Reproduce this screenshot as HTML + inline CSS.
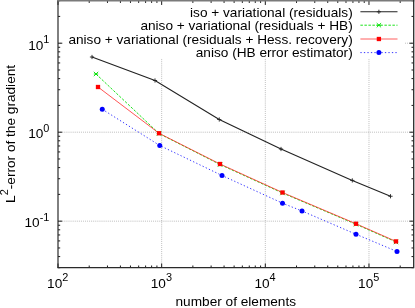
<!DOCTYPE html><html><head><meta charset="utf-8"><style>html,body{margin:0;padding:0;background:#fff;overflow:hidden}svg{display:block;filter:blur(0.3px)}text{font-family:"Liberation Sans",sans-serif;font-size:13.65px;fill:#000}</style></head><body>
<svg width="415" height="308" viewBox="0 0 415 308">
<rect width="415" height="308" fill="#fff"/>
<path d="M161.66 0.75V267.7M265.32 0.75V267.7M368.98 0.75V267.7M58.0 43.21H413.7M58.0 132.19H413.7M58.0 221.17H413.7" stroke="#777" stroke-width="0.65" stroke-dasharray="0.7 1.24" fill="none"/>
<rect x="62.5" y="1.5" width="342.5" height="57" fill="#fff"/>
<path d="M58.00 267.7v-4.2M58.00 0.75v4.2M89.21 267.7v-2.2M89.21 0.75v2.2M107.46 267.7v-2.2M107.46 0.75v2.2M120.41 267.7v-2.2M120.41 0.75v2.2M130.46 267.7v-2.2M130.46 0.75v2.2M138.66 267.7v-2.2M138.66 0.75v2.2M145.60 267.7v-2.2M145.60 0.75v2.2M151.62 267.7v-2.2M151.62 0.75v2.2M156.92 267.7v-2.2M156.92 0.75v2.2M161.66 267.7v-4.2M161.66 0.75v4.2M192.87 267.7v-2.2M192.87 0.75v2.2M211.12 267.7v-2.2M211.12 0.75v2.2M224.07 267.7v-2.2M224.07 0.75v2.2M234.12 267.7v-2.2M234.12 0.75v2.2M242.33 267.7v-2.2M242.33 0.75v2.2M249.27 267.7v-2.2M249.27 0.75v2.2M255.28 267.7v-2.2M255.28 0.75v2.2M260.58 267.7v-2.2M260.58 0.75v2.2M265.32 267.7v-4.2M265.32 0.75v4.2M296.53 267.7v-2.2M296.53 0.75v2.2M314.78 267.7v-2.2M314.78 0.75v2.2M327.73 267.7v-2.2M327.73 0.75v2.2M337.78 267.7v-2.2M337.78 0.75v2.2M345.99 267.7v-2.2M345.99 0.75v2.2M352.93 267.7v-2.2M352.93 0.75v2.2M358.94 267.7v-2.2M358.94 0.75v2.2M364.24 267.7v-2.2M364.24 0.75v2.2M368.98 267.7v-4.2M368.98 0.75v4.2M400.19 267.7v-2.2M400.19 0.75v2.2M58.0 267.70h2.2M413.7 267.70h-2.2M58.0 256.58h2.2M413.7 256.58h-2.2M58.0 247.96h2.2M413.7 247.96h-2.2M58.0 240.91h2.2M413.7 240.91h-2.2M58.0 234.96h2.2M413.7 234.96h-2.2M58.0 229.80h2.2M413.7 229.80h-2.2M58.0 225.24h2.2M413.7 225.24h-2.2M58.0 221.17h4.2M413.7 221.17h-4.2M58.0 194.39h2.2M413.7 194.39h-2.2M58.0 178.72h2.2M413.7 178.72h-2.2M58.0 167.60h2.2M413.7 167.60h-2.2M58.0 158.98h2.2M413.7 158.98h-2.2M58.0 151.93h2.2M413.7 151.93h-2.2M58.0 145.97h2.2M413.7 145.97h-2.2M58.0 140.81h2.2M413.7 140.81h-2.2M58.0 136.26h2.2M413.7 136.26h-2.2M58.0 132.19h4.2M413.7 132.19h-4.2M58.0 105.40h2.2M413.7 105.40h-2.2M58.0 89.73h2.2M413.7 89.73h-2.2M58.0 78.62h2.2M413.7 78.62h-2.2M58.0 69.99h2.2M413.7 69.99h-2.2M58.0 62.95h2.2M413.7 62.95h-2.2M58.0 56.99h2.2M413.7 56.99h-2.2M58.0 51.83h2.2M413.7 51.83h-2.2M58.0 47.28h2.2M413.7 47.28h-2.2M58.0 43.21h4.2M413.7 43.21h-4.2M58.0 16.42h2.2M413.7 16.42h-2.2M58.0 0.75h2.2M413.7 0.75h-2.2" stroke="#1a1a1a" stroke-width="1" fill="none"/>
<path d="M92 57L155 80.5L219.25 119.5L281 149L352.3 180.4L390.5 196.25" stroke="#222" stroke-width="1.1" fill="none"/>
<path d="M96 74L159 133.5L220 164.5L282.5 193L356 224.25L396 242" stroke="#00e000" stroke-width="0.9" stroke-dasharray="2.5 1.5" fill="none"/>
<path d="M98 87L159 133.25L220 164L282.5 192.5L356 223.75L396 241.4" stroke="#ff2a2a" stroke-width="0.8" fill="none"/>
<path d="M102.25 109.25L159.75 145.5L222 175.5L282.5 203.2L302 211L356 234.25L397 251.5" stroke="#2020ff" stroke-width="0.9" stroke-dasharray="1.3 2.2" fill="none"/>
<path d="M89.9 57h4.2M92 54.9v4.2" stroke="#222" stroke-width="0.9" fill="none"/>
<path d="M152.9 80.5h4.2M155 78.4v4.2" stroke="#222" stroke-width="0.9" fill="none"/>
<path d="M217.15 119.5h4.2M219.25 117.4v4.2" stroke="#222" stroke-width="0.9" fill="none"/>
<path d="M278.9 149h4.2M281 146.9v4.2" stroke="#222" stroke-width="0.9" fill="none"/>
<path d="M350.2 180.4h4.2M352.3 178.3v4.2" stroke="#222" stroke-width="0.9" fill="none"/>
<path d="M388.4 196.25h4.2M390.5 194.15v4.2" stroke="#222" stroke-width="0.9" fill="none"/>
<path d="M93.8 71.8l4.4 4.4M93.8 76.2l4.4 -4.4M93.8 74h4.4" stroke="#00e000" stroke-width="0.9" fill="none"/>
<path d="M156.8 131.3l4.4 4.4M156.8 135.7l4.4 -4.4M156.8 133.5h4.4" stroke="#00e000" stroke-width="0.9" fill="none"/>
<path d="M217.8 162.3l4.4 4.4M217.8 166.7l4.4 -4.4M217.8 164.5h4.4" stroke="#00e000" stroke-width="0.9" fill="none"/>
<path d="M280.3 190.8l4.4 4.4M280.3 195.2l4.4 -4.4M280.3 193h4.4" stroke="#00e000" stroke-width="0.9" fill="none"/>
<path d="M353.8 222.05l4.4 4.4M353.8 226.45l4.4 -4.4M353.8 224.25h4.4" stroke="#00e000" stroke-width="0.9" fill="none"/>
<path d="M393.8 239.8l4.4 4.4M393.8 244.2l4.4 -4.4M393.8 242h4.4" stroke="#00e000" stroke-width="0.9" fill="none"/>
<rect x="95.85" y="84.85" width="4.3" height="4.3" fill="#ff0000"/>
<rect x="156.85" y="131.1" width="4.3" height="4.3" fill="#ff0000"/>
<rect x="217.85" y="161.85" width="4.3" height="4.3" fill="#ff0000"/>
<rect x="280.35" y="190.35" width="4.3" height="4.3" fill="#ff0000"/>
<rect x="353.85" y="221.6" width="4.3" height="4.3" fill="#ff0000"/>
<rect x="393.85" y="239.25" width="4.3" height="4.3" fill="#ff0000"/>
<circle cx="102.25" cy="109.25" r="2.5" fill="#0000ff"/>
<circle cx="159.75" cy="145.5" r="2.5" fill="#0000ff"/>
<circle cx="222" cy="175.5" r="2.5" fill="#0000ff"/>
<circle cx="282.5" cy="203.2" r="2.5" fill="#0000ff"/>
<circle cx="302" cy="211" r="2.5" fill="#0000ff"/>
<circle cx="356" cy="234.25" r="2.5" fill="#0000ff"/>
<circle cx="397" cy="251.5" r="2.5" fill="#0000ff"/>
<text x="352.7" y="16.5" text-anchor="end">iso + variational (residuals)</text>
<text x="352.7" y="29.9" text-anchor="end">aniso + variational (residuals + HB)</text>
<text x="352.7" y="43.7" text-anchor="end">aniso + variational (residuals + Hess. recovery)</text>
<text x="352.7" y="57.300000000000004" text-anchor="end">aniso (HB error estimator)</text>
<path d="M360.4 11.8H397.5" stroke="#222" stroke-width="1.1"/>
<path d="M376.79999999999995 11.8h4.2M378.9 9.700000000000001v4.2" stroke="#222" stroke-width="0.9" fill="none"/>
<path d="M360.4 25.2H397.5" stroke="#00e000" stroke-width="0.9" stroke-dasharray="2.5 1.5"/>
<path d="M376.7 23.0l4.4 4.4M376.7 27.4l4.4 -4.4M376.7 25.2h4.4" stroke="#00e000" stroke-width="0.9" fill="none"/>
<path d="M360.4 39.0H397.5" stroke="#ff2a2a" stroke-width="0.75"/>
<rect x="376.75" y="36.85" width="4.3" height="4.3" fill="#ff0000"/>
<path d="M360.4 52.6H397.5" stroke="#2020ff" stroke-width="0.9" stroke-dasharray="1.3 2.2"/>
<circle cx="378.9" cy="52.6" r="2.5" fill="#0000ff"/>
<path d="M58.0 267.7V0" stroke="#2a2a2a" stroke-width="1.2" fill="none"/>
<path d="M57.4 0.72H414.3" stroke="#7a7a7a" stroke-width="1.45" fill="none"/>
<path d="M57.4 267.7H414.3M413.7 267.7V0" stroke="#2a2a2a" stroke-width="1.3" fill="none"/>
<text x="57.70" y="288.00" text-anchor="middle">10<tspan dy="-6.9" font-size="10.9px">2</tspan></text>
<text x="161.36" y="288.00" text-anchor="middle">10<tspan dy="-6.9" font-size="10.9px">3</tspan></text>
<text x="265.02" y="288.00" text-anchor="middle">10<tspan dy="-6.9" font-size="10.9px">4</tspan></text>
<text x="368.68" y="288.00" text-anchor="middle">10<tspan dy="-6.9" font-size="10.9px">5</tspan></text>
<text x="49.40" y="49.51" text-anchor="end">10<tspan dy="-6.9" font-size="10.9px">1</tspan></text>
<text x="49.40" y="138.49" text-anchor="end">10<tspan dy="-6.9" font-size="10.9px">0</tspan></text>
<text x="49.40" y="227.47" text-anchor="end">10<tspan dy="-6.9" font-size="10.9px">-1</tspan></text>
<text x="235.8" y="305.8" text-anchor="middle">number of elements</text>
<text transform="translate(15.3 133.9) rotate(-90)" text-anchor="middle">L<tspan dy="-6.9" font-size="10.9px">2</tspan><tspan dy="6.9">-error of the gradient</tspan></text>
</svg></body></html>
